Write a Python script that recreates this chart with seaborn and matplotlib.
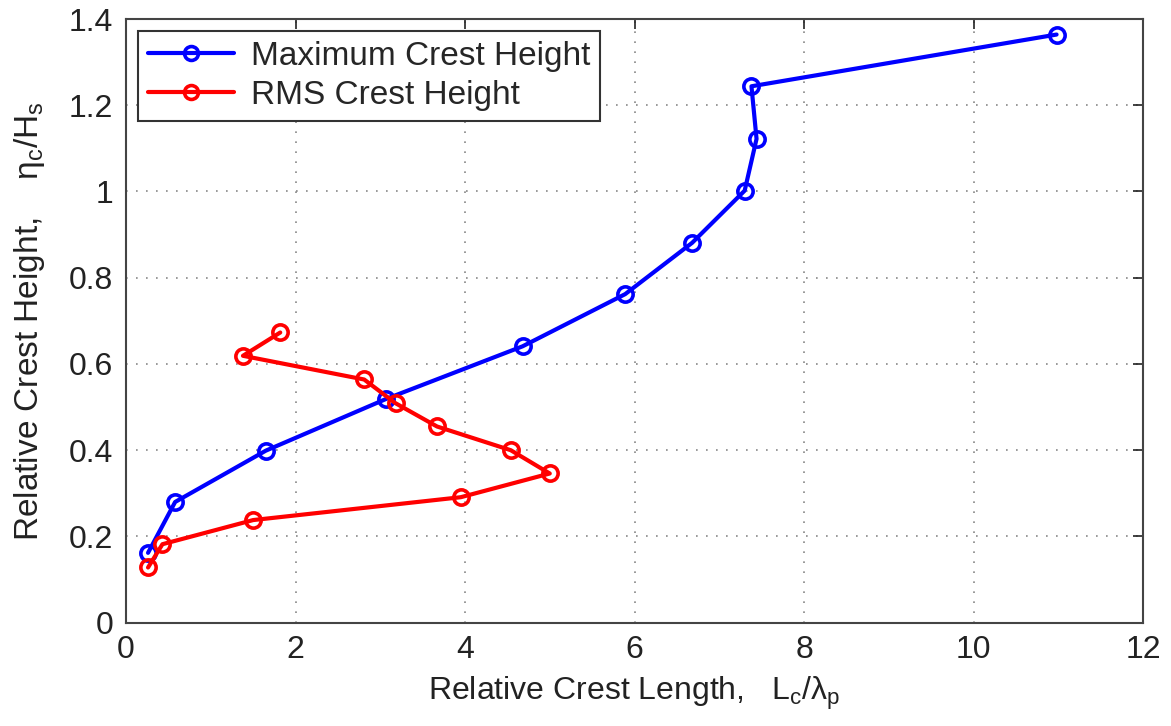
import matplotlib
matplotlib.use("Agg")
import matplotlib.pyplot as plt
import seaborn as sns
import pandas as pd
from matplotlib.lines import Line2D

# Data
max_x = [0.26, 0.58, 1.65, 3.07, 4.68, 5.89, 6.68, 7.30, 7.44, 7.38, 10.98]
max_y = [0.162, 0.280, 0.399, 0.519, 0.641, 0.762, 0.881, 1.002, 1.122, 1.244, 1.364]
rms_x = [0.26, 0.43, 1.50, 3.95, 5.00, 4.54, 3.67, 3.18, 2.81, 1.38, 1.82]
rms_y = [0.128, 0.182, 0.238, 0.291, 0.346, 0.400, 0.455, 0.509, 0.564, 0.619, 0.673]
series_names = ["Maximum Crest Height", "RMS Crest Height"]
x_ticks = [0, 2, 4, 6, 8, 10, 12]
y_ticks = [0, 0.2, 0.4, 0.6, 0.8, 1.0, 1.2, 1.4]
y_tick_labels = ["0", "0.2", "0.4", "0.6", "0.8", "1", "1.2", "1.4"]
colors = ["#0000ff", "#ff0000"]

df = pd.DataFrame({
    "x": max_x + rms_x,
    "y": max_y + rms_y,
    "series": [series_names[0]] * len(max_x) + [series_names[1]] * len(rms_x),
})

sns.set_style("white")
plt.rcParams["font.family"] = ["Liberation Sans", "DejaVu Sans"]
plt.rcParams["mathtext.fontset"] = "custom"
plt.rcParams["mathtext.rm"] = "Liberation Sans"

fig = plt.figure(figsize=(11.71, 7.26), dpi=100)
ax = fig.add_axes([0.1076, 0.1423, 0.8685, 0.8315])

sns.lineplot(data=df, x="x", y="y", hue="series", sort=False, estimator=None,
             units="series", palette=colors, marker="o",
             markersize=11, markerfacecolor="none", markeredgewidth=2.6,
             linewidth=3, ax=ax, legend=False)
for line, c in zip(ax.get_lines(), colors):
    line.set_markeredgecolor(c)

ax.set_xlim(0, 12)
ax.set_ylim(0, 1.4)
ax.set_xticks(x_ticks)
ax.set_xticklabels([str(t) for t in x_ticks])
ax.set_yticks(y_ticks)
ax.set_yticklabels(y_tick_labels)
ax.tick_params(direction="in", length=7, width=1.2, labelsize=23, colors="#222222",
               top=True, right=True, pad=9)
ax.grid(True, linestyle=(0, (1, 5)), color="#888888", linewidth=1.2)
for s in ax.spines.values():
    s.set_color("#444444")
    s.set_linewidth(1.5)

ax.set_xlabel(r"Relative Crest Length,   L$_\mathregular{c}$/λ$_\mathregular{p}$",
              fontsize=23, color="#222222", labelpad=7)
ax.set_ylabel(r"Relative Crest Height,    η$_\mathregular{c}$/H$_\mathregular{s}$",
              fontsize=24, color="#222222", labelpad=16)

handles = [Line2D([], [], color=c, marker="o", markerfacecolor="none",
                  markeredgecolor=c, markersize=10, markeredgewidth=2.6, linewidth=3)
           for c in colors]
leg = ax.legend(handles, series_names, loc="upper left", fontsize=24, frameon=True,
                fancybox=False, edgecolor="#333333", framealpha=1,
                borderaxespad=0.35, handlelength=2.6, handletextpad=0.5,
                borderpad=0.3, labelspacing=0.25)
leg.get_frame().set_linewidth(1.5)

fig.savefig("out.png", dpi=100)
